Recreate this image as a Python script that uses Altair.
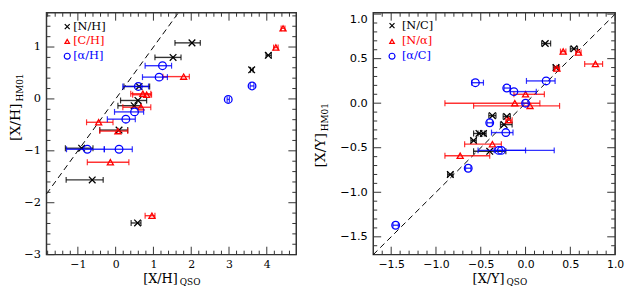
import altair as alt
import numpy as np
import pandas as pd

# ---------------- Left panel: [X/H]_HM01 vs [X/H]_QSO ----------------
NH_x  = [2.02, 1.52, 4.04, 3.60, 0.62, 0.59, 0.49, 0.09, -0.90, -0.62, 0.58]
NH_y  = [1.08, 0.80, 0.84, 0.56, 0.24, -0.03, -0.13, -0.60, -0.95, -1.56, -2.39]
NH_lo = [1.57, 1.04, 3.98, 3.57, 0.22, 0.13, 0.06, -0.42, -1.33, -1.31, 0.41]
NH_hi = [2.24, 1.73, 4.12, 3.64, 0.90, 0.82, 0.67, 0.32, -0.60, -0.33, 0.67]

CH_x  = [4.43, 4.24, 1.80, 0.72, 0.82, 0.67, -0.45, 0.06, -0.14, 0.96]
CH_y  = [1.36, 0.99, 0.43, 0.10, 0.08, -0.16, -0.45, -0.62, -1.22, -2.25]
CH_lo = [4.38, 4.18, 1.25, 0.40, 0.45, 0.19, -0.77, -0.42, -0.75, 0.78]
CH_hi = [4.48, 4.30, 1.95, 0.93, 0.95, 0.93, -0.07, 0.32, 0.35, 1.04]

aH_x  = [3.61, 2.98, 1.24, 1.15, 0.60, 0.50, 0.27, -0.75, 0.09]
aH_y  = [0.25, -0.01, 0.64, 0.42, 0.24, -0.25, -0.39, -0.97, -0.97]
aH_lo = [3.56, 2.95, 0.78, 0.71, 0.19, -0.03, -0.22, -1.30, -0.30]
aH_hi = [3.66, 3.01, 1.48, 1.37, 0.87, 0.74, 0.52, -0.30, 0.44]

# ---------------- Right panel: [X/Y]_HM01 vs [X/Y]_QSO ----------------
NC_x  = [0.22, 0.54, 0.34, -0.37, -0.21, -0.24, -0.52, -0.47, -0.58, -0.40, -0.84]
NC_y  = [0.67, 0.61, 0.40, -0.14, -0.15, -0.24, -0.34, -0.34, -0.42, -0.54, -0.80]
NC_lo = [0.18, 0.50, 0.31, -0.41, -0.25, -0.28, -0.58, -0.53, -0.61, -0.58, -0.87]
NC_hi = [0.28, 0.58, 0.37, -0.33, -0.17, -0.15, -0.46, -0.44, -0.55, -0.22, -0.81]

Na_x  = [0.42, 0.59, 0.78, 0.35, 0.00, -0.12, 0.05, -0.19, -0.37, -0.73]
Na_y  = [0.58, 0.57, 0.44, 0.39, 0.10, 0.00, -0.03, -0.19, -0.46, -0.59]
Na_lo = [0.39, 0.56, 0.66, 0.32, -0.13, -0.90, -0.58, -0.22, -0.68, -0.90]
Na_hi = [0.45, 0.62, 0.86, 0.38, 0.21, 0.16, 0.38, -0.15, -0.27, -0.40]

aC_x  = [-0.56, 0.23, -0.21, -0.13, 0.00, -0.40, -0.22, -0.30, -0.27, -0.64, -1.45]
aC_y  = [0.23, 0.25, 0.17, 0.13, 0.00, -0.22, -0.33, -0.53, -0.53, -0.73, -1.37]
aC_lo = [-0.60, 0.01, -0.24, -0.17, -0.03, -0.43, -0.38, -0.53, -0.35, -0.67, -1.48]
aC_hi = [-0.47, 0.33, -0.17, 0.12, 0.03, -0.37, -0.14, 0.00, 0.32, -0.61, -1.42]

# axis tick values
L_xmaj = [-1, 0, 1, 2, 3, 4]
L_ymaj = [-3, -2, -1, 0, 1]
R_xmaj = [-1.5, -1.0, -0.5, 0.0, 0.5, 1.0]
R_ymaj = [-1.5, -1.0, -0.5, 0.0, 0.5, 1.0]

def minors(lo, hi, step, majors):
    v = np.round(np.arange(lo, hi + 1e-9, step), 2)
    return [float(a) for a in v if all(abs(a - m) > 1e-6 for m in majors)]

L_xmin = minors(-1.8, 4.6, 0.2, L_xmaj)
L_ymin = minors(-2.8, 1.6, 0.2, L_ymaj)
R_xmin = minors(-1.6, 0.9, 0.1, R_xmaj)
R_ymin = minors(-1.6, 0.9, 0.1, R_ymaj)

W1, W2, H = 253, 245, 245
SERIF = "DejaVu Serif"
SANS = "DejaVu Sans"
X_SHAPE = "M-1,-1L1,1M-1,1L1,-1"
RED, BLUE, BLACK = "#ff0000", "#0000ff", "#000000"


def panel(series, xdom, ydom, xmaj, xmin_, ymaj, ymin_, W, xfmt, yfmt, lab_font,
          leg_sym_x, leg_txt_x, leg_rows, xtitle, ytitle, ytitle_pos, yflush):
    xs = alt.Scale(domain=xdom, nice=False, zero=False)
    ys = alt.Scale(domain=ydom, nice=False, zero=False)
    xax = alt.Axis(values=xmaj, format=xfmt, ticks=False, domain=False, grid=False,
                   title=None, labelFont=lab_font, labelFontSize=11, labelPadding=4,
                   labelFlush=False, labelOverlap=False, labelColor="black")
    yax = alt.Axis(values=ymaj, format=yfmt, ticks=False, domain=False, grid=False,
                   title=None, labelFont=lab_font, labelFontSize=11.5, labelPadding=6,
                   labelFlush=yflush, labelOverlap=False, labelColor="black")

    def X(f):
        return alt.X(f + ":Q", scale=xs, axis=xax)

    def Y(f):
        return alt.Y(f + ":Q", scale=ys, axis=yax)

    layers = []
    lo = max(xdom[0], ydom[0])
    hi = min(xdom[1], ydom[1])
    dd = pd.DataFrame({"x": [lo, hi], "y": [lo, hi]})
    layers.append(alt.Chart(dd).mark_line(color="black", strokeDash=[6, 4], strokeWidth=1)
                  .encode(x=X("x"), y=Y("y")))

    # inward ticks on all four sides
    for vals, L in ((xmaj, 8), (xmin_, 4)):
        d = pd.DataFrame({"v": vals})
        layers.append(alt.Chart(d).mark_rule(color="#333", strokeWidth=1)
                      .encode(x=X("v"), y=alt.value(H), y2=alt.value(H - L)))
        layers.append(alt.Chart(d).mark_rule(color="#333", strokeWidth=1)
                      .encode(x=X("v"), y=alt.value(0), y2=alt.value(L)))
    for vals, L in ((ymaj, 8), (ymin_, 4)):
        d = pd.DataFrame({"v": vals})
        layers.append(alt.Chart(d).mark_rule(color="#333", strokeWidth=1)
                      .encode(y=Y("v"), x=alt.value(0), x2=alt.value(L)))
        layers.append(alt.Chart(d).mark_rule(color="#333", strokeWidth=1)
                      .encode(y=Y("v"), x=alt.value(W), x2=alt.value(W - L)))

    for s in series:
        df = pd.DataFrame({"x": s["x"], "y": s["y"], "lo": s["lo"], "hi": s["hi"]})
        c = s["color"]
        base = alt.Chart(df)
        layers.append(base.mark_rule(color=c, strokeWidth=1.4, opacity=0.8)
                      .encode(x=X("lo"), x2="hi:Q", y=Y("y")))
        layers.append(base.mark_tick(color=c, orient="vertical", size=6, thickness=1.2, opacity=0.8)
                      .encode(x=X("lo"), y=Y("y")))
        layers.append(base.mark_tick(color=c, orient="vertical", size=6, thickness=1.2, opacity=0.8)
                      .encode(x=X("hi"), y=Y("y")))
        layers.append(base.mark_point(shape=s["shape"], filled=False, color=c,
                                      size=s["size"], strokeWidth=1.3, opacity=1)
                      .encode(x=X("x"), y=Y("y")))

    # legend
    for s, ry in zip(series, leg_rows):
        d = pd.DataFrame({"t": [s["label"]]})
        layers.append(alt.Chart(d).mark_point(shape=s["shape"], filled=False, color=s["color"],
                                              size=s["lsize"], strokeWidth=1.2, opacity=1)
                      .encode(x=alt.value(leg_sym_x), y=alt.value(ry)))
        layers.append(alt.Chart(d).mark_text(align="left", baseline="middle", font=SERIF,
                                             fontSize=11.5, color=s["color"])
                      .encode(x=alt.value(leg_txt_x), y=alt.value(ry), text="t:N"))

    # axis titles with subscripts
    main, sub = xtitle
    d = pd.DataFrame({"t": [main]})
    layers.append(alt.Chart(d).mark_text(align="right", baseline="alphabetic", font=SERIF,
                                         fontSize=13, color="black")
                  .encode(x=alt.value(133), y=alt.value(H + 29), text="t:N"))
    d = pd.DataFrame({"t": [sub]})
    layers.append(alt.Chart(d).mark_text(align="left", baseline="alphabetic", font=SERIF,
                                         fontSize=9, color="black")
                  .encode(x=alt.value(135), y=alt.value(H + 31), text="t:N"))
    main, sub = ytitle
    tx, sx, jy = ytitle_pos
    d = pd.DataFrame({"t": [main]})
    layers.append(alt.Chart(d).mark_text(align="right", baseline="middle", font=SERIF,
                                         fontSize=14, color="black", angle=270)
                  .encode(x=alt.value(tx), y=alt.value(jy), text="t:N"))
    d = pd.DataFrame({"t": [sub]})
    layers.append(alt.Chart(d).mark_text(align="left", baseline="middle", font=SERIF,
                                         fontSize=9, color="black", angle=270)
                  .encode(x=alt.value(sx), y=alt.value(jy - 2), text="t:N"))

    return alt.layer(*layers).properties(width=W, height=H)


left_series = [
    dict(label="[N/H]", color=BLACK, shape=X_SHAPE, size=45, lsize=25,
         x=NH_x, y=NH_y, lo=NH_lo, hi=NH_hi),
    dict(label="[C/H]", color=RED, shape="triangle-up", size=38, lsize=22,
         x=CH_x, y=CH_y, lo=CH_lo, hi=CH_hi),
    dict(label="[α/H]", color=BLUE, shape="circle", size=60, lsize=36,
         x=aH_x, y=aH_y, lo=aH_lo, hi=aH_hi),
]
right_series = [
    dict(label="[N/C]", color=BLACK, shape=X_SHAPE, size=45, lsize=25,
         x=NC_x, y=NC_y, lo=NC_lo, hi=NC_hi),
    dict(label="[N/α]", color=RED, shape="triangle-up", size=38, lsize=22,
         x=Na_x, y=Na_y, lo=Na_lo, hi=Na_hi),
    dict(label="[α/C]", color=BLUE, shape="circle", size=60, lsize=36,
         x=aC_x, y=aC_y, lo=aC_lo, hi=aC_hi),
]

left = panel(left_series, [-1.83, 4.78], [-3.0, 1.66], L_xmaj, L_xmin, L_ymaj, L_ymin, W1,
             "d", "d", SERIF, 21, 27, [14, 29, 44], ("[X/H]", "QSO"), ("[X/H]", "HM01"),
             (-31, -27, 92), False)
right = panel(right_series, [-1.70, 1.0], [-1.70, 1.015], R_xmaj, R_xmin, R_ymaj, R_ymin, W2,
              ".1f", ".1f", SANS, 19, 29, [13, 29, 44], ("[X/Y]", "QSO"), ("[X/Y]", "HM01"),
              (-53, -49, 122), 4)

chart = (alt.hconcat(left, right, spacing=78, bounds="flush")
         .properties(padding=0, background="white")
         .configure_view(stroke="#333", strokeWidth=1.5))

chart.save("out.html", embed_options={"renderer": "svg", "actions": False})
